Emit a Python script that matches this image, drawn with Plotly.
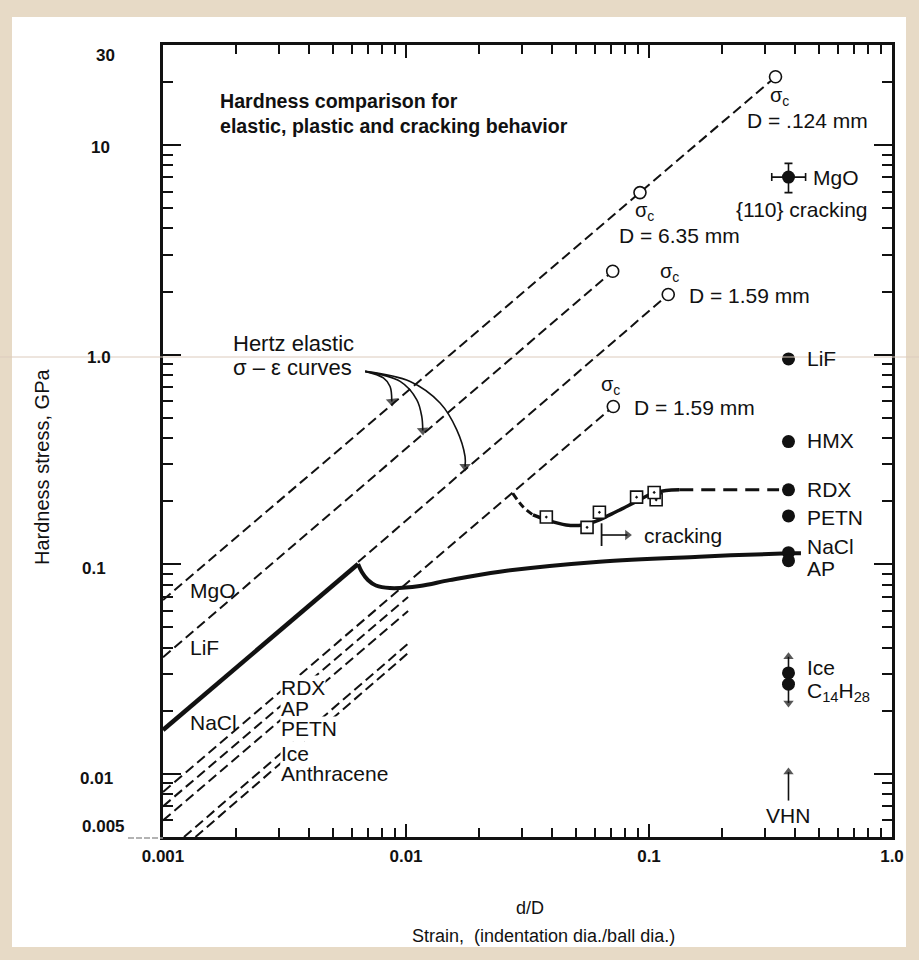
import math
import plotly.graph_objects as go

INK = "#111111"
PAPER = "#e7dac6"
FONT = "Liberation Sans, Arial, Helvetica, sans-serif"

# ---------------- axes ----------------
x_major = [0.001, 0.01, 0.1, 1.0]
x_major_text = ["0.001", "0.01", "0.1", "1.0"]
x_minor = [0.002, 0.003, 0.004, 0.005, 0.006, 0.007, 0.008, 0.009,
           0.02, 0.03, 0.04, 0.05, 0.06, 0.07, 0.08, 0.09,
           0.2, 0.3, 0.4, 0.5, 0.6, 0.7, 0.8, 0.9]
y_major = [0.005, 0.01, 0.1, 1.0, 10, 30]
y_major_text = ["0.005", "0.01", "0.1", "1.0", "10", "30"]
y_minor = [0.006, 0.007, 0.008, 0.009,
           0.02, 0.03, 0.04, 0.05, 0.06, 0.07, 0.08, 0.09,
           0.2, 0.3, 0.4, 0.5, 0.6, 0.7, 0.8, 0.9,
           2, 3, 4, 5, 6, 7, 8, 9, 20]

# ---------------- Hertz elastic lines (end points of each dashed line) ----------------
hertz_names = ["MgO", "LiF", "NaCl", "RDX", "AP", "PETN", "Ice", "Anthracene"]
hertz_x0 = [0.001, 0.001, 0.00635, 0.001, 0.001, 0.001, 0.00122, 0.00136]
hertz_y0 = [0.0675, 0.036, 0.1025, 0.0082, 0.0070, 0.0060, 0.005, 0.005]
hertz_x1 = [0.3316, 0.0709, 0.12, 0.0713, 0.0102, 0.0102, 0.0102, 0.0102]
hertz_y1 = [21.16, 2.50, 1.936, 0.566, 0.0698, 0.0598, 0.0418, 0.0377]

# critical stress for cracking, sigma_c
sigc_x = [0.3316, 0.0918, 0.0709, 0.12, 0.0713]
sigc_y = [21.16, 5.93, 2.50, 1.936, 0.566]

# ---------------- NaCl ball indentation ----------------
nacl_elastic_x = [0.001, 0.00635]
nacl_elastic_y = [0.0162, 0.1003]
nacl_plastic_x = [0.00635, 0.00658, 0.00697, 0.00752, 0.00858, 0.0114, 0.0151,
                  0.0243, 0.0625, 0.161, 0.377, 0.422]
nacl_plastic_y = [0.1003, 0.0919, 0.0841, 0.0792, 0.0770, 0.0787, 0.0840,
                  0.0922, 0.1029, 0.1087, 0.1129, 0.1130]

# ---------------- RDX ball indentation ----------------
rdx_onset_x = [0.0275, 0.0303, 0.0333]
rdx_onset_y = [0.218, 0.188, 0.172]
rdx_curve_x = [0.0333, 0.0378, 0.0456, 0.0534, 0.0625, 0.0732, 0.0885, 0.1035, 0.1174, 0.1332]
rdx_curve_y = [0.172, 0.163, 0.154, 0.154, 0.163, 0.178, 0.199, 0.218, 0.225, 0.2265]
rdx_ext_x = [0.1332, 0.343]
rdx_ext_y = [0.2265, 0.2265]
rdx_sq_x = [0.0378, 0.0556, 0.0625, 0.0889, 0.107, 0.105]
rdx_sq_y = [0.168, 0.150, 0.177, 0.209, 0.203, 0.220]

# ---------------- Vickers hardness (VHN) ----------------
vhn_names = ["MgO", "LiF", "HMX", "RDX", "PETN", "NaCl", "AP", "Ice", "C14H28"]
vhn_x = 0.375
vhn_y = [7.03, 0.954, 0.385, 0.2265, 0.170, 0.1136, 0.104, 0.0303, 0.0268]
mgo_err_y_plus, mgo_err_y_minus = 1.14, 1.10
mgo_err_x_plus, mgo_err_x_minus = 0.066, 0.055

# ---------------- pointer / arrow geometry ----------------
hertz_arrow_x = [
    [0.00679, 0.00807, 0.0086, 0.00874],
    [0.00679, 0.00946, 0.01108, 0.01161, 0.01172],
    [0.00679, 0.0104, 0.01381, 0.01618, 0.0175, 0.0175],
]
hertz_arrow_y = [
    [0.832, 0.774, 0.705, 0.598],
    [0.832, 0.745, 0.609, 0.507, 0.435],
    [0.832, 0.745, 0.588, 0.438, 0.3265, 0.2924],
]
# straight arrows: (tail x, tail y, tip x, tip y)
straight_arrows = [
    (0.0638, 0.1379, 0.0815, 0.1379),   # cracking onset
    (0.375, 0.00746, 0.375, 0.01020),   # VHN
    (0.375, 0.0310, 0.375, 0.0362),     # Ice (lower bound)
    (0.375, 0.0262, 0.375, 0.0218),     # C14H28 (upper bound)
]
crack_bar_x = [0.0638, 0.0638]
crack_bar_y = [0.1568, 0.1222]

# ---------------- labels ----------------
left_labels = ["MgO", "LiF", "NaCl"]
left_label_x = [0.00127, 0.00127, 0.00127]
left_label_y = [0.0748, 0.0403, 0.01767]
stack_labels = ["RDX", "AP", "PETN", "Ice", "Anthracene"]
stack_label_x = [0.00304, 0.00304, 0.00304, 0.00304, 0.00304]
stack_label_y = [0.02574, 0.02055, 0.01648, 0.01252, 0.01005]

right_labels = ["MgO", "LiF", "HMX", "RDX", "PETN", "NaCl", "AP", "Ice",
                "C<sub>14</sub>H<sub>28</sub>"]
right_label_x = [0.463, 0.4375, 0.4375, 0.4375, 0.4375, 0.4375, 0.4375, 0.4375, 0.4375]
right_label_y = [7.03, 0.957, 0.388, 0.2265, 0.168, 0.1209, 0.0959, 0.03226, 0.0245]

sigc_label_x = [0.3453, 0.0962, 0.1219, 0.0697]
sigc_label_y = [17.0, 4.80, 2.466, 0.7108]
d_labels = ["D = .124 mm", "D = 6.35 mm", "D = 1.59 mm", "D = 1.59 mm"]
d_label_x = [0.2479, 0.0738, 0.1432, 0.0851]
d_label_y = [13.14, 3.685, 1.925, 0.558]

fig = go.Figure()


def add_line(x, y, width=2.0, dash=None, shape="linear"):
    fig.add_trace(go.Scatter(
        x=x, y=y, mode="lines",
        line=dict(color=INK, width=width, dash=dash, shape=shape),
        hoverinfo="skip", showlegend=False))


def add_arrow(x, y, width=1.6, head=10, shape="linear"):
    sizes = [0] * (len(x) - 1) + [head]
    fig.add_trace(go.Scatter(
        x=x, y=y, mode="lines+markers",
        line=dict(color=INK, width=width, shape=shape),
        marker=dict(symbol="triangle-up", size=sizes, color=INK, angleref="previous",
                    line=dict(width=0)),
        hoverinfo="skip", showlegend=False))


# Hertz elastic sigma-epsilon lines
for i in range(len(hertz_names)):
    add_line([hertz_x0[i], hertz_x1[i]], [hertz_y0[i], hertz_y1[i]], width=2.0, dash="10px,5px")

# NaCl: elastic loading, yield cusp, plastic hardening
add_line(nacl_elastic_x, nacl_elastic_y, width=4.5)
add_line(nacl_plastic_x, nacl_plastic_y, width=4.0, shape="spline")

# RDX: onset, measured curve and extension to the VHN value
add_line(rdx_onset_x, rdx_onset_y, width=3.0, dash="7px,4px", shape="spline")
add_line(rdx_curve_x, rdx_curve_y, width=3.5, shape="spline")
add_line(rdx_ext_x, rdx_ext_y, width=3.0, dash="14px,8px")

fig.add_trace(go.Scatter(
    x=rdx_sq_x, y=rdx_sq_y, mode="markers",
    marker=dict(symbol="square-dot", size=12, color="white",
                line=dict(color=INK, width=1.6)),
    hoverinfo="skip", showlegend=False))

# sigma_c open circles
fig.add_trace(go.Scatter(
    x=sigc_x, y=sigc_y, mode="markers",
    marker=dict(symbol="circle", size=12, color="white", line=dict(color=INK, width=1.6)),
    hoverinfo="skip", showlegend=False))

# VHN filled circles
fig.add_trace(go.Scatter(
    x=[vhn_x] * (len(vhn_y) - 1), y=vhn_y[1:], mode="markers",
    marker=dict(symbol="circle", size=13, color=INK),
    hoverinfo="skip", showlegend=False))
fig.add_trace(go.Scatter(
    x=[vhn_x], y=vhn_y[:1], mode="markers",
    marker=dict(symbol="circle", size=13, color=INK),
    error_y=dict(type="data", symmetric=False, array=[mgo_err_y_plus],
                 arrayminus=[mgo_err_y_minus], color=INK, thickness=1.6, width=4),
    error_x=dict(type="data", symmetric=False, array=[mgo_err_x_plus],
                 arrayminus=[mgo_err_x_minus], color=INK, thickness=1.6, width=4),
    hoverinfo="skip", showlegend=False))

# curved pointers from the "Hertz elastic" label
for xs, ys in zip(hertz_arrow_x, hertz_arrow_y):
    add_arrow(xs, ys, width=1.6, head=10, shape="spline")

# straight arrows
for x0, y0, x1, y1 in straight_arrows:
    add_arrow([x0, x1], [y0, y1], width=1.6, head=9)

# cracking onset bar
add_line(crack_bar_x, crack_bar_y, width=1.8)

L = math.log10
ann = []


def text(t, x, y, size=21, xanchor="left", yanchor="middle", **kw):
    ann.append(dict(text=t, x=L(x), y=L(y), xref="x", yref="y", showarrow=False,
                    xanchor=xanchor, yanchor=yanchor,
                    font=dict(family=FONT, size=size, color=INK), **kw))


for t, x, y in zip(left_labels, left_label_x, left_label_y):
    text(t, x, y)
# labels written across their own dashed lines
for t, x, y in zip(stack_labels, stack_label_x, stack_label_y):
    text(t, x, y, size=21, bgcolor="white", borderpad=0)
for t, x, y in zip(right_labels, right_label_x, right_label_y):
    text(t, x, y)
for x, y in zip(sigc_label_x, sigc_label_y):
    text("σ<sub>c</sub>", x, y, size=20, xanchor="center")
for t, x, y in zip(d_labels, d_label_x, d_label_y):
    text(t, x, y)
text("{110} cracking", 0.4273, 4.933, xanchor="center")
text("VHN", 0.375, 0.00633, xanchor="center")
text("cracking", 0.0932, 0.1379)
text("Hertz elastic", 0.003434, 1.129, size=22, xanchor="center")
text("σ – ε curves", 0.00340, 0.8667, size=22, xanchor="center")

# y tick labels, set a little inside the frame at the two ends
y_label_right_px = [127, 115, 108, 113, 112, 117]
y_label_mid_px = [826, 778, 568, 357, 147, 55]
for t, rx, my in zip(y_major_text, y_label_right_px, y_label_mid_px):
    ann.append(dict(text="<b>" + t + "</b>", x=(rx - 163) / 729, y=(837 - my) / 792,
                    xref="paper", yref="paper", xanchor="right", yanchor="middle",
                    showarrow=False, font=dict(family=FONT, size=17, color=INK)))

# figure title and axis titles
ann.append(dict(text="<b>Hardness comparison for<br>elastic, plastic and cracking behavior</b>",
                x=(218 - 163) / 729, y=(837 - 113) / 792, xref="paper", yref="paper",
                xanchor="left", yanchor="middle", align="left", showarrow=False,
                font=dict(family=FONT, size=19.6, color=INK)))
ann.append(dict(text="Hardness stress, GPa", textangle=-90,
                x=(42 - 163) / 729, y=(837 - 466) / 792, xref="paper", yref="paper",
                xanchor="center", yanchor="middle", showarrow=False,
                font=dict(family=FONT, size=20, color=INK)))
ann.append(dict(text="d/D", x=(530 - 163) / 729, y=(837 - 908) / 792,
                xref="paper", yref="paper", xanchor="center", yanchor="middle",
                showarrow=False, font=dict(family=FONT, size=18, color=INK)))
ann.append(dict(text="Strain,\u00a0 (indentation dia./ball dia.)",
                x=(543 - 163) / 729, y=(837 - 936) / 792,
                xref="paper", yref="paper", xanchor="center", yanchor="middle",
                showarrow=False, font=dict(family=FONT, size=18, color=INK)))

fig.update_layout(
    width=919, height=960,
    margin=dict(l=163, r=27, t=45, b=123),
    paper_bgcolor=PAPER, plot_bgcolor="white",
    font=dict(family=FONT, size=21, color=INK),
    showlegend=False,
    annotations=ann,
    shapes=[
        dict(type="rect", xref="paper", yref="paper", layer="below",
             x0=(12 - 163) / 729, x1=(906 - 163) / 729,
             y0=(837 - 947) / 792, y1=(837 - 17) / 792,
             fillcolor="white", line=dict(width=0)),
        dict(type="line", xref="paper", yref="paper", layer="above",
             x0=-163 / 729, x1=(919 - 163) / 729,
             y0=(837 - 357) / 792, y1=(837 - 357) / 792,
             line=dict(color="#dccbbd", width=1)),
        dict(type="line", xref="paper", yref="paper", layer="above",
             x0=(128 - 163) / 729, x1=0, y0=(837 - 838) / 792, y1=(837 - 838) / 792,
             line=dict(color="#9a9a9a", width=1.5, dash="6px,2px")),
    ],
)

fig.update_xaxes(
    type="log", range=[-3, 0],
    tickmode="array", tickvals=x_major, ticktext=x_major_text,
    ticks="inside", ticklen=13, tickwidth=2, tickcolor=INK,
    showline=True, linewidth=2.5, linecolor=INK, mirror="ticks",
    showgrid=False, zeroline=False,
    tickfont=dict(family=FONT, size=17, color=INK, weight="bold"), ticklabelstandoff=2,
    minor=dict(tickmode="array", tickvals=x_minor, ticks="inside", ticklen=9,
               tickwidth=1.8, tickcolor=INK, showgrid=False),
)
fig.update_yaxes(
    type="log", range=[L(0.005), L(30)],
    tickmode="array", tickvals=y_major, ticktext=y_major_text, showticklabels=False,
    ticks="inside", ticklen=18, tickwidth=2, tickcolor=INK,
    showline=True, linewidth=2.5, linecolor=INK, mirror="ticks",
    showgrid=False, zeroline=False,
    minor=dict(tickmode="array", tickvals=y_minor, ticks="inside", ticklen=10,
               tickwidth=1.8, tickcolor=INK, showgrid=False),
)

fig.write_html("out.html")
